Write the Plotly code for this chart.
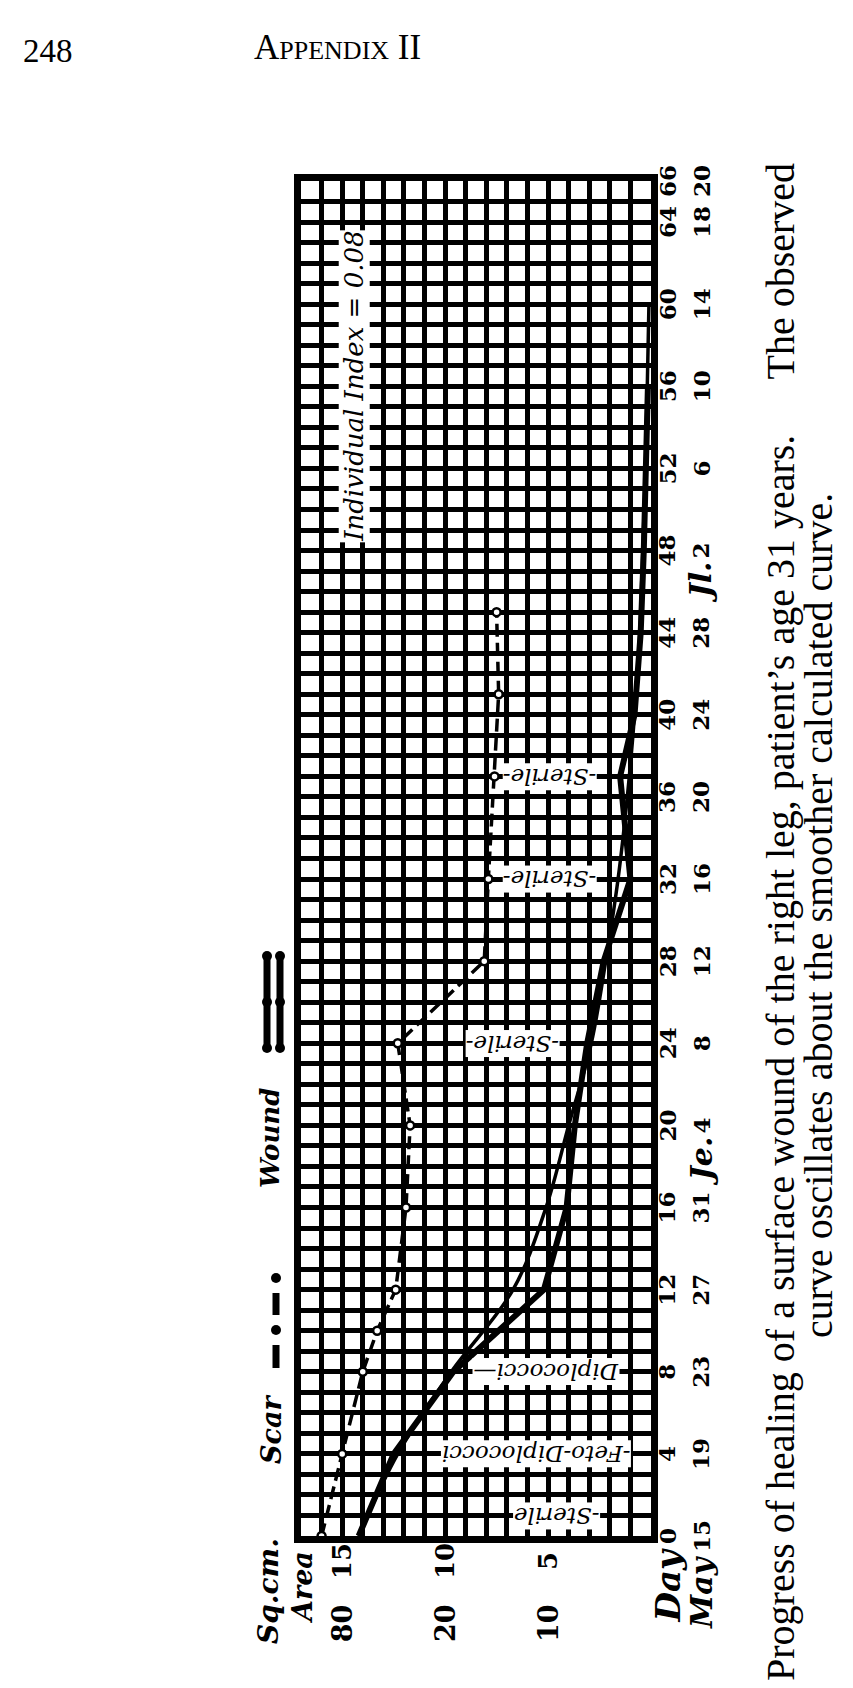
import plotly.graph_objects as go

# ---------------- data ----------------
# observed wound area (thick line), sq. cm
obs_days = [0, 4, 8, 12, 16, 20, 24, 28, 32, 37, 40, 44, 48, 52, 56]
obs_area = [14.2, 12.5, 9.6, 5.2, 4.1, 3.7, 3.1, 2.3, 1.0, 1.5, 0.8, 0.5, 0.35, 0.25, 0.15]

# calculated (smooth) curve, sq. cm
calc_days = [0, 4, 8, 12, 16, 20, 24, 28, 32, 36, 40, 44, 48, 52, 56, 60]
calc_area = [14.2, 12.3, 9.7, 6.7, 5.1, 4.0, 2.9, 2.2, 1.6, 1.15, 0.8, 0.55, 0.4, 0.27, 0.18, 0.1]

# scar curve (dashed line with dots), plotted in chart units
scar_days = [0, 4, 8, 10, 12, 16, 20, 24, 28, 32, 37, 41, 45]
scar_area = [16.0, 15.0, 14.0, 13.3, 12.4, 11.9, 11.7, 12.3, 8.1, 7.9, 7.6, 7.4, 7.5]

# bacteriological notes
bact_days = [1, 4, 8, 24, 32, 37]
bact_labels = ["-Sterile", "-Feto-Diplococci", "Diplococci\u2014", "-Sterile-", "-Sterile-", "-Sterile-"]

# tick labels
day_ticks = [0, 4, 8, 12, 16, 20, 24, 28, 32, 36, 40, 44, 48, 52, 56, 60, 64, 66]
date_numbers = ["15", "19", "23", "27", "31", "4", "8", "12", "16", "20", "24", "28",
                "2", "6", "10", "14", "18", "20"]
date_prefix = ["May", "", "", "", "", "Je.", "", "", "", "", "", "", "Jl.", "", "", "", "", ""]
area_ticks = [15, 10, 5]
area_tick_text = ["15", "10", "5"]
scar_tick_text = ["80", "20", "10"]

# ---------------- layout helpers (pixel -> paper) ----------------
PL, PR, PT, PB = 293, 643, 173, 1528
W, H = 853, 1688


def px(x):
    return (x - PL) / (PR - PL)


def py(y):
    return (PB - y) / (PB - PT)


SERIF = "Liberation Serif, DejaVu Serif, serif"
DSERIF = "DejaVu Serif, Liberation Serif, serif"
BLACK = "#000000"

fig = go.Figure()

fig.add_trace(go.Scatter(x=calc_area, y=calc_days, mode="lines", line_shape="spline",
                         line=dict(color=BLACK, width=3.5), showlegend=False))
fig.add_trace(go.Scatter(x=obs_area, y=obs_days, mode="lines",
                         line=dict(color=BLACK, width=6), showlegend=False))
fig.add_trace(go.Scatter(x=scar_area, y=scar_days, mode="lines+markers",
                         line=dict(color=BLACK, width=3.5, dash="13px,6px"),
                         marker=dict(symbol="circle", size=8, color="white",
                                     line=dict(color=BLACK, width=2.5)),
                         showlegend=False))

annotations = []


def rot(text, x, y, xref, yref, size, family=DSERIF, angle=-90, xa="center", ya="middle",
        yshift=0, bg=None):
    d = dict(x=x, y=y, xref=xref, yref=yref, text=text, textangle=angle, showarrow=False,
             xanchor=xa, yanchor=ya, yshift=yshift,
             font=dict(family=family, size=size, color=BLACK))
    if bg:
        d["bgcolor"] = bg
        d["borderpad"] = 0
    return d


# bacteriology labels (upside down)
bact_label_area = [4.6, 5.6, 5.1, 6.7, 4.9, 4.9]
for d, t, xa in zip(bact_days, bact_labels, bact_label_area):
    annotations.append(rot("<i>" + t + "</i>", xa, d, "x", "y", 23, angle=180, bg="white"))

annotations.append(rot("<i>Individual Index = 0.08</i>", 14.4, 56.0, "x", "y", 26, bg="white"))

# day tick labels (right side)
for d in day_ticks:
    annotations.append(rot("<b>%d</b>" % d, px(659), d, "paper", "y", 23))
for d, num, pre in zip(day_ticks, date_numbers, date_prefix):
    annotations.append(rot("<b>%s</b>" % num, px(693), d, "paper", "y", 23))
    if pre:
        annotations.append(rot("<b><i>%s</i></b>" % pre, px(693), d, "paper", "y", 30,
                               ya="top", yshift=-(7.5 * len(num) + 2)))
annotations.append(rot("<b><i>Day</i></b>", px(659), 0, "paper", "y", 34, ya="top", yshift=-10))

# area tick labels (below)
for a, t1, t2 in zip(area_ticks, area_tick_text, scar_tick_text):
    annotations.append(rot("<b>%s</b>" % t1, a, py(1553), "x", "paper", 26))
    annotations.append(rot("<b>%s</b>" % t2, a, py(1615), "x", "paper", 27))
annotations.append(rot("<b><i>Sq.cm.</i></b>", px(261), py(1583), "paper", "paper", 28))
annotations.append(rot("<b><i>Area</i></b>", px(294), py(1580), "paper", "paper", 27))

# legend texts
annotations.append(rot("<b><i>Wound</i></b>", px(262), py(1130), "paper", "paper", 26))
annotations.append(rot("<b><i>Scar</i></b>", px(263), py(1422), "paper", "paper", 27))

# page header
annotations.append(dict(x=px(13), y=py(43), xref="paper", yref="paper", text="248",
                        showarrow=False, xanchor="left", yanchor="middle",
                        font=dict(family=SERIF, size=33, color=BLACK)))
annotations.append(dict(x=px(329), y=py(39), xref="paper", yref="paper",
                        text="A<span style='font-size:26px'>PPENDIX</span> II",
                        showarrow=False, xanchor="center", yanchor="middle",
                        font=dict(family=SERIF, size=35, color=BLACK)))

# caption (rotated)
annotations.append(rot("Progress of healing of a surface wound of the right leg, patient\u2019s age 31 years.",
                       px(772), py(1675), "paper", "paper", 40, family=SERIF, ya="bottom"))
annotations.append(rot("The observed", px(772), py(153), "paper", "paper", 40, family=SERIF, ya="top"))
annotations.append(rot("curve oscillates about the smoother calculated curve.",
                       px(810), py(908), "paper", "paper", 40, family=SERIF))

# legend symbols (shapes in paper coordinates)
shapes = []


def dot(xc, yc, r):
    return dict(type="circle", xref="paper", yref="paper",
                x0=px(xc - r), x1=px(xc + r), y0=py(yc + r), y1=py(yc - r),
                fillcolor=BLACK, line=dict(color=BLACK, width=0))


for xc in (259, 272):
    shapes.append(dict(type="line", xref="paper", yref="paper", x0=px(xc), x1=px(xc),
                       y0=py(948), y1=py(1040), line=dict(color=BLACK, width=7)))
    for yc in (948, 994, 1040):
        shapes.append(dot(xc, yc, 5))

shapes.append(dot(268, 1270, 5))
shapes.append(dict(type="line", xref="paper", yref="paper", x0=px(268), x1=px(268),
                   y0=py(1285), y1=py(1307), line=dict(color=BLACK, width=7)))
shapes.append(dot(268, 1322, 5))
shapes.append(dict(type="line", xref="paper", yref="paper", x0=px(268), x1=px(268),
                   y0=py(1337), y1=py(1360), line=dict(color=BLACK, width=7)))

axis_common = dict(showgrid=True, gridcolor=BLACK, gridwidth=4.5, zeroline=False,
                   showline=True, linecolor=BLACK, linewidth=7, mirror=True,
                   showticklabels=False, ticks="", dtick=1, tick0=0, fixedrange=True)

fig.update_layout(
    width=W, height=H,
    margin=dict(l=PL, r=W - PR, t=PT, b=H - PB, pad=0),
    paper_bgcolor="white", plot_bgcolor="white",
    xaxis=dict(range=[17, 0], **axis_common),
    yaxis=dict(range=[0, 66], **axis_common),
    annotations=annotations,
    shapes=shapes,
    showlegend=False,
)

fig.write_html("out.html")
